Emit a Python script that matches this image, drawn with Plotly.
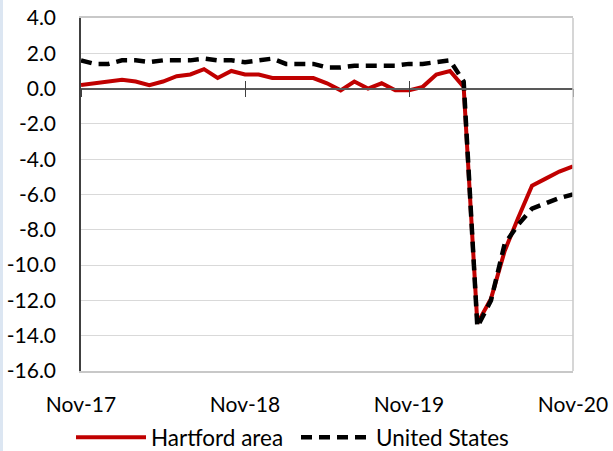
import plotly.graph_objects as go

months = ["Nov-17","Dec-17","Jan-18","Feb-18","Mar-18","Apr-18","May-18","Jun-18","Jul-18","Aug-18","Sep-18","Oct-18",
          "Nov-18","Dec-18","Jan-19","Feb-19","Mar-19","Apr-19","May-19","Jun-19","Jul-19","Aug-19","Sep-19","Oct-19",
          "Nov-19","Dec-19","Jan-20","Feb-20","Mar-20","Apr-20","May-20","Jun-20","Jul-20","Aug-20","Sep-20","Oct-20",
          "Nov-20"]
hartford = [0.2,0.3,0.4,0.5,0.4,0.2,0.4,0.7,0.8,1.1,0.6,1.0,0.8,0.8,0.6,0.6,
            0.6,0.6,0.3,-0.1,0.4,0.0,0.3,-0.1,-0.1,0.1,0.8,1.0,0.1,
            -13.3,-11.9,-9.2,-7.3,-5.5,-5.1,-4.7,-4.4]
us = [1.6,1.4,1.4,1.6,1.6,1.5,1.6,1.6,1.6,1.7,1.6,1.6,1.5,1.6,1.7,1.4,
      1.4,1.4,1.2,1.2,1.3,1.3,1.3,1.3,1.4,1.4,1.5,1.6,0.4,
      -13.5,-12.0,-8.8,-7.7,-6.8,-6.5,-6.2,-6.0]
x_ticks = ["Nov-17","Nov-18","Nov-19","Nov-20"]
y_tickvals = [4,2,0,-2,-4,-6,-8,-10,-12,-14,-16]
y_ticktext = ["4.0","2.0","0.0","-2.0","-4.0","-6.0","-8.0","-10.0","-12.0","-14.0","-16.0"]

FONT = "Lato, Calibri, Carlito, sans-serif"
W, H = 613, 451
L, R, T, B = 81, 40, 18, 80
PW, PH = W - L - R, H - T - B

fig = go.Figure()
fig.add_trace(go.Scatter(x=months, y=hartford, name="Hartford area", mode="lines",
                         line=dict(color="#c00000", width=4)))
fig.add_trace(go.Scatter(x=months, y=us, name="United States", mode="lines",
                         line=dict(color="#000000", width=4.5, dash="11px,7px")))
# empty traces to carry the zero-line axes
fig.add_trace(go.Scatter(x=[], y=[], xaxis="x2", showlegend=False, hoverinfo="skip"))
fig.add_trace(go.Scatter(x=[], y=[], xaxis="x3", showlegend=False, hoverinfo="skip"))

zero_pos = (0 - (-16)) / 20.0

fig.update_layout(
    width=W, height=H,
    margin=dict(l=L, r=R, t=T, b=B, autoexpand=False),
    paper_bgcolor="white", plot_bgcolor="white",
    font=dict(family=FONT, size=21, color="#000000"),
    xaxis=dict(type="category", range=[0, 36], tickvals=x_ticks, ticktext=x_ticks,
               showgrid=False, zeroline=False, ticks="", showline=True,
               linecolor="#c8c8c8", linewidth=1.5, mirror=True, automargin=False,
               ticklabelstandoff=14, tickfont=dict(size=21)),
    xaxis2=dict(overlaying="x", anchor="free", position=zero_pos, range=[0, 36],
                tickvals=[0, 12, 24, 36], showticklabels=False, showgrid=False,
                zeroline=False, showline=True, linecolor="#595959", linewidth=1.5,
                ticks="outside", ticklen=8, tickwidth=1.2, tickcolor="#404040",
                automargin=False),
    xaxis3=dict(overlaying="x", anchor="free", position=zero_pos, range=[0, 36],
                tickvals=[0, 12, 24, 36], showticklabels=False, showgrid=False,
                zeroline=False, showline=False, automargin=False,
                ticks="inside", ticklen=8, tickwidth=1.2, tickcolor="#404040"),
    yaxis=dict(range=[-16, 4], tickvals=y_tickvals, ticktext=y_ticktext,
               showgrid=True, gridcolor="#d9d9d9", gridwidth=1.2, automargin=False,
               zeroline=False, showline=True, linecolor="#404040", linewidth=1.5,
               ticks="", ticklabelstandoff=19, tickfont=dict(size=21)),
    legend=dict(orientation="h", x=-10 / PW, xanchor="left", y=-45 / PH, yanchor="top",
                font=dict(size=22.5), itemwidth=70, entrywidth=140, entrywidthmode="pixels",
                tracegroupgap=0, bgcolor="rgba(0,0,0,0)"),
    shapes=[
        dict(type="line", xref="paper", yref="paper", x0=1, x1=1, y0=0, y1=1,
             line=dict(color="#c8c8c8", width=1.5), layer="above"),
        dict(type="rect", xref="paper", yref="paper",
             x0=-L / PW, x1=(-L + 3) / PW,
             y0=-B / PH, y1=1 + T / PH,
             fillcolor="#dce6f2", line=dict(width=0), layer="below"),
    ],
    showlegend=True,
)

fig.write_html("out.html", config={"displayModeBar": False},
               post_script="document.body.style.margin='0';document.body.style.overflow='hidden';")
